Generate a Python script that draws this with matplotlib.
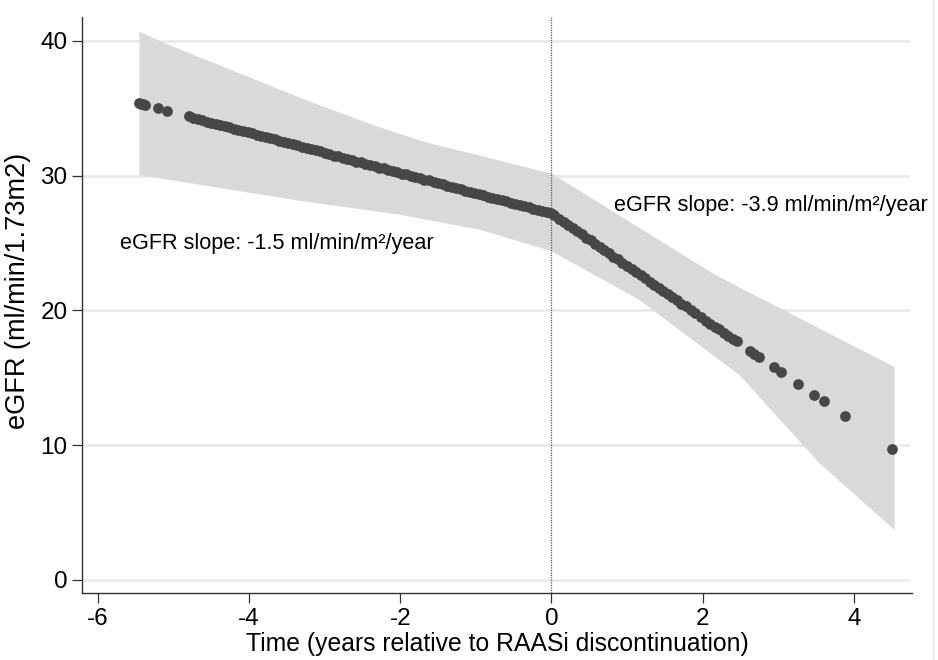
import matplotlib
matplotlib.use("Agg")
import matplotlib.pyplot as plt
from matplotlib.lines import Line2D

plt.rcParams['font.family'] = ['Liberation Sans', 'DejaVu Sans']
plt.rcParams['axes.unicode_minus'] = False

# fitted eGFR at observed times, before RAASi discontinuation
pre_x = [-5.46, -5.43, -5.40, -5.37, -5.21, -5.09, -4.80, -4.74, -4.68, -4.62,
         -4.56, -4.50, -4.44, -4.38, -4.32, -4.26, -4.20, -4.14, -4.08, -4.02,
         -3.96, -3.90, -3.84, -3.78, -3.72, -3.66, -3.60, -3.54, -3.48, -3.42,
         -3.36, -3.30, -3.24, -3.18, -3.12, -3.06, -3.00, -2.94, -2.88, -2.82,
         -2.76, -2.70, -2.64, -2.58, -2.52, -2.46, -2.40, -2.34, -2.28, -2.22,
         -2.16, -2.10, -2.04, -1.98, -1.92, -1.86, -1.80, -1.74, -1.68, -1.62,
         -1.56, -1.50, -1.44, -1.38, -1.32, -1.26, -1.20, -1.14, -1.08, -1.02,
         -0.96, -0.90, -0.84, -0.78, -0.72, -0.66, -0.60, -0.54, -0.48, -0.42,
         -0.36, -0.30, -0.24, -0.18, -0.12, -0.06, 0.00]
pre_y = [35.4, 35.35, 35.3, 35.25, 35.0, 34.8, 34.4, 34.3, 34.2, 34.1,
         34.0, 33.95, 33.85, 33.75, 33.7, 33.6, 33.5, 33.4, 33.3, 33.25,
         33.15, 33.05, 32.95, 32.85, 32.8, 32.7, 32.6, 32.5, 32.4, 32.35,
         32.25, 32.15, 32.05, 31.95, 31.9, 31.8, 31.7, 31.6, 31.5, 31.45,
         31.35, 31.25, 31.15, 31.05, 31.0, 30.9, 30.8, 30.7, 30.6, 30.55,
         30.45, 30.35, 30.25, 30.15, 30.1, 30.0, 29.9, 29.8, 29.7, 29.65,
         29.55, 29.45, 29.35, 29.25, 29.2, 29.1, 29.0, 28.9, 28.8, 28.75,
         28.65, 28.55, 28.45, 28.35, 28.3, 28.2, 28.1, 28.0, 27.9, 27.85,
         27.75, 27.65, 27.55, 27.45, 27.4, 27.3, 27.2]

# fitted eGFR after discontinuation
post_x = [0.04, 0.10, 0.16, 0.22, 0.28, 0.34, 0.40, 0.46, 0.52, 0.58,
          0.64, 0.70, 0.76, 0.82, 0.88, 0.94, 1.00, 1.06, 1.12, 1.18,
          1.24, 1.30, 1.36, 1.42, 1.48, 1.54, 1.60, 1.66, 1.72, 1.78,
          1.84, 1.90, 1.98, 2.04, 2.10, 2.16, 2.22, 2.28, 2.34, 2.40,
          2.45, 2.63, 2.68, 2.75, 2.94, 3.04, 3.26, 3.48, 3.60, 3.88, 4.51]
post_y = [27.05, 26.8, 26.6, 26.35, 26.1, 25.9, 25.65, 25.4, 25.2, 24.95,
          24.7, 24.5, 24.25, 24.0, 23.8, 23.55, 23.3, 23.1, 22.85, 22.6,
          22.4, 22.15, 21.9, 21.7, 21.45, 21.2, 21.0, 20.75, 20.5, 20.3,
          20.05, 19.8, 19.5, 19.25, 19.0, 18.8, 18.6, 18.35, 18.1, 17.9,
          17.7, 17.0, 16.8, 16.55, 15.8, 15.4, 14.55, 13.7, 13.25, 12.15, 9.7]

# 95% CI band edges
ci_up_x = [-5.45, -5.15, -3.24, -2.28, -1.61, -0.95, 0.0, 0.28, 2.18, 4.54]
ci_up_y = [40.7, 39.9, 35.6, 33.6, 32.4, 31.5, 30.15, 29.2, 22.6, 15.8]
ci_lo_x = [-5.45, -3.4, -2.0, -0.95, 0.0, 1.16, 2.49, 3.54, 4.54]
ci_lo_y = [30.05, 28.2, 27.1, 26.0, 24.4, 20.8, 15.2, 8.7, 3.7]

yticks = [0, 10, 20, 30, 40]
xticks = [-6, -4, -2, 0, 2, 4]

fig = plt.figure(figsize=(9.38, 6.6), dpi=100)
ax = fig.add_axes([82 / 938, 67 / 660, 830 / 938, 576 / 660])

poly_x = ci_up_x + ci_lo_x[::-1]
poly_y = ci_up_y + ci_lo_y[::-1]
ax.fill(poly_x, poly_y, color='#d9d9d9', lw=0, zorder=2)

for y in yticks:
    ax.plot([-6.21, 4.72], [y, y], color='#eaeaea', lw=2, zorder=1)

ax.axvline(0, color='#555555', lw=0.9, ls=(0, (1, 1)), zorder=3)

ax.scatter(pre_x + post_x, pre_y + post_y, s=60, color='#474747', lw=0, zorder=4)

ax.text(-5.71, 25.0, 'eGFR slope: -1.5 ml/min/m\u00b2/year', fontsize=15.6, va='center', zorder=5)
ax.text(0.83, 27.8, 'eGFR slope: -3.9 ml/min/m\u00b2/year', fontsize=15.6, va='center', zorder=5)

ax.set_xlim(-6.21, 4.77)
ax.set_ylim(-0.965, 41.78)
ax.set_xticks(xticks)
ax.set_yticks(yticks)
ax.tick_params(labelsize=17.5, length=7, width=0.9, color='#333333')
for s in ['top', 'right']:
    ax.spines[s].set_visible(False)
for s in ['left', 'bottom']:
    ax.spines[s].set_color('#333333')
    ax.spines[s].set_linewidth(1.0)

ax.set_xlabel('Time (years relative to RAASi discontinuation)', fontsize=17.8, labelpad=2)
ax.set_ylabel('eGFR (ml/min/1.73m2)', fontsize=19.5)
ax.yaxis.set_label_coords(-0.061, 0.525)

fig.add_artist(Line2D([933 / 938, 933 / 938], [0, 1], color='#e6e6e6', lw=1))

fig.savefig('out.png', dpi=100)
